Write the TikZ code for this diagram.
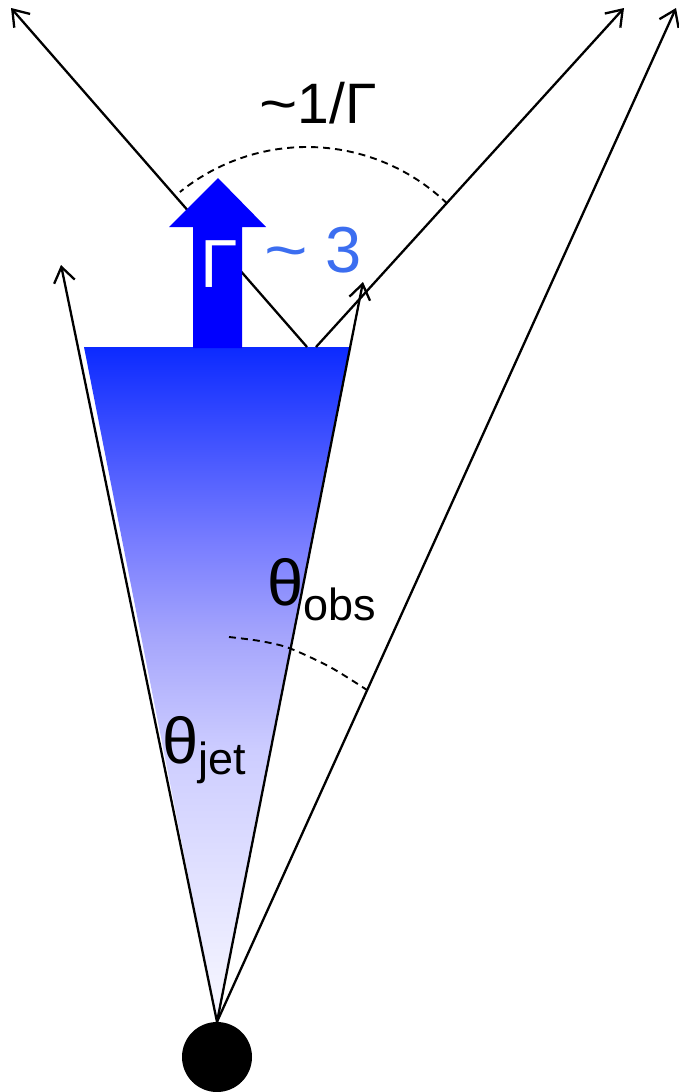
\documentclass[tikz,border=0pt]{standalone}
\usepackage{fontspec}
\setmainfont{Liberation Sans}
\usetikzlibrary{arrows.meta}
\definecolor{gamblue}{RGB}{60,110,240}
\definecolor{cA}{RGB}{248,248,255}
\definecolor{cB}{RGB}{205,205,255}
\definecolor{cC}{RGB}{165,165,252}
\definecolor{cD}{RGB}{120,125,255}
\definecolor{cE}{RGB}{12,42,255}
\pgfdeclareverticalshading{conefade}{100bp}{%
  color(0bp)=(cA); color(25bp)=(cA); color(45bp)=(cB);
  color(53.5bp)=(cC); color(60.5bp)=(cD); color(75bp)=(cE); color(100bp)=(cE)}
\tikzset{
  ray/.style={line width=2.3pt, -{Straight Barb[length=15pt,width=21pt,line width=2.3pt]}},
  arcline/.style={line width=1.9pt, dash pattern=on 7pt off 5pt},
  lbl/.style={inner sep=0pt, outer sep=0pt, anchor=base west},
}
\begin{document}
\begin{tikzpicture}[x=1pt,y=-1pt]
\useasboundingbox (0,0) rectangle (679,1092);
% coordinates
\coordinate (coneL) at (84,347);
\coordinate (coneR) at (350,347);
\coordinate (apex) at (217,1021);
\coordinate (tipL) at (61,265);
\coordinate (tipR) at (363,282);
\coordinate (tipFar) at (676,8);
\coordinate (refL) at (307,347);
\coordinate (refR) at (316,347);
\coordinate (tipTL) at (11,8);
\coordinate (tipTR) at (624,8);
% cone
\shade[shading=conefade] (coneL) -- (coneR) -- (apex) -- cycle;
% source
\node[circle, fill=black, minimum size=70pt, inner sep=0pt] (src) at (217,1057) {};
% rays
\draw[ray] (src.north) -- (tipL);
\draw[ray] (src.north) -- (tipR);
\draw[ray] (src.north) -- (tipFar);
\draw[ray] (refL) -- (tipTL);
\draw[ray] (refR) -- (tipTR);
% dashed arcs
\draw[arcline] plot[domain=46:129, samples=60] ({307+202*cos(\x)}, {349-202*sin(\x)});
\draw[arcline] plot[smooth] coordinates {(229,637) (260,641) (289,648) (330,667) (367,690)};
% block arrow
\fill[blue] (193,348) -- (193,227) -- (169,227) -- (218,178) -- (266,227) -- (242,227) -- (242,348) -- cycle;
% labels
\node[lbl, text=white] (gam) at (200,287) {\fontsize{68}{68}\selectfont Γ};
\node[lbl, text=gamblue] (gam3) at (264,272) {\fontsize{65}{65}\selectfont \scalebox{1.15}[1]{\textasciitilde}\ 3};
\node[anchor=base, inner sep=0pt] (inv) at (318,123) {\fontsize{57}{57}\selectfont \scalebox{1.15}[1]{\textasciitilde}1/Γ};
\node[lbl] (thobs) at (267,605) {\fontsize{65}{65}\selectfont θ\raisebox{-15pt}{\fontsize{45}{45}\selectfont obs}};
\node[lbl] (thjet) at (162,763) {\fontsize{65}{65}\selectfont θ\raisebox{-11pt}{\fontsize{45}{45}\selectfont jet}};
\end{tikzpicture}
\end{document}
